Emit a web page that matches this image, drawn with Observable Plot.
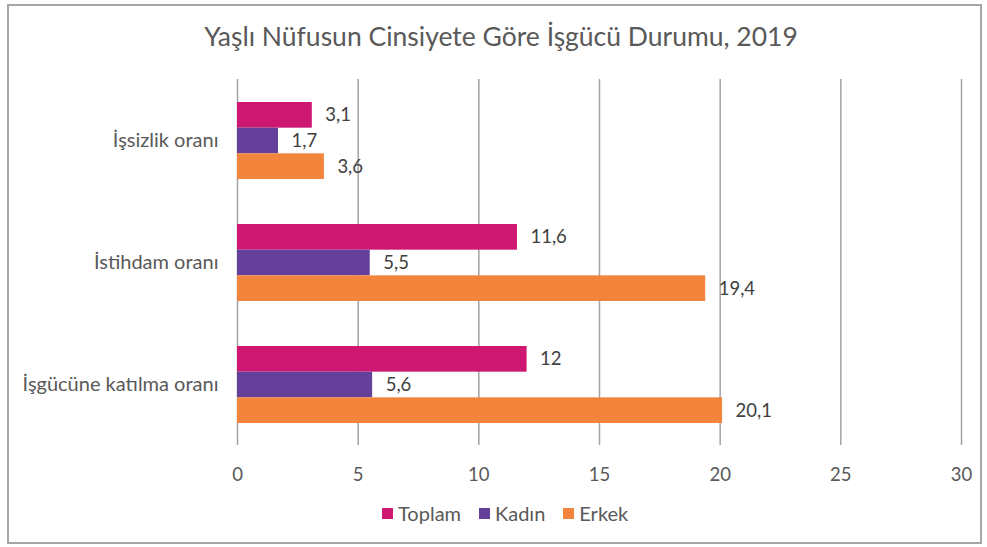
<!DOCTYPE html>
<html><head><meta charset="utf-8">
<script src="https://cdn.jsdelivr.net/npm/d3@7"></script>
<script src="https://cdn.jsdelivr.net/npm/@observablehq/plot@0.6"></script>
<style>
body{margin:0;background:#fff;font-family:Lato,"Open Sans",sans-serif;}
#wrap{position:relative;width:987px;height:547px;overflow:hidden;background:#fff}
#frame{position:absolute;left:7px;top:4px;width:971px;height:536px;border:2px solid #A6A6A6}
#title{position:absolute;left:0;width:1002px;top:20px;text-align:center;font-size:26.5px;color:#595959;white-space:nowrap}
#chart{position:absolute;left:0;top:0}
#legend{position:absolute;left:382px;top:501px;display:flex;align-items:center;font-size:20px;color:#595959;white-space:nowrap}
#legend .it{display:flex;align-items:center;margin-right:18px}
#legend .sw{width:11px;height:11px;margin-right:5px}
</style>
</head><body>
<div id="wrap">
  <div id="frame"></div>
  <div id="chart"></div>
  <div id="title">Yaşlı Nüfusun Cinsiyete Göre İşgücü Durumu, 2019</div>
  <div id="legend"></div>
</div>
<script>
const categories = ["İşsizlik oranı", "İstihdam oranı", "İşgücüne katılma oranı"];
const seriesNames = ["Toplam", "Kadın", "Erkek"];
const toplam = [3.1, 11.6, 12];
const kadin = [1.7, 5.5, 5.6];
const erkek = [3.6, 19.4, 20.1];
const seriesColors = ["#CD1770", "#65409B", "#F3843C"];
const xTicks = [0, 5, 10, 15, 20, 25, 30];

const seriesValues = [toplam, kadin, erkek];
const rows = [];
seriesNames.forEach((s, k) => categories.forEach((c, i) => rows.push({cat: c, series: s, k, value: seriesValues[k][i]})));

const band = 77, h = band / 3;
const fmt = d => String(d.value).replace(".", ",");

const marks = [Plot.ruleX(xTicks, {stroke: "#A3A3A3", strokeWidth: 1.5})];
seriesNames.forEach((s, k) => {
  const d = rows.filter(r => r.k === k);
  marks.push(Plot.barX(d, {x: "value", y: "cat", fill: seriesColors[k], insetTop: k * h, insetBottom: (2 - k) * h}));
  marks.push(Plot.text(d, {x: "value", y: "cat", text: fmt, dx: 13, dy: (k - 1) * h, textAnchor: "start", fill: "#404040", fontSize: 18.5}));
});

const chart = Plot.plot({
  width: 987, height: 547,
  marginLeft: 237, marginRight: 26, marginTop: 79, marginBottom: 102,
  style: {fontSize: "18.5px", fontFamily: "Lato, 'Open Sans', sans-serif", color: "#595959", background: "transparent"},
  x: {domain: [0, 30], ticks: xTicks, tickSize: 0, tickPadding: 22, label: null},
  y: {domain: categories, paddingInner: 0.369, paddingOuter: 0.184, tickSize: 0, tickPadding: 19, label: null},
  marks
});
chart.querySelectorAll("g[aria-label='y-axis tick label'] text, g[aria-label='y-axis'] text").forEach(t => t.style.fontSize = "20px");
document.getElementById("chart").appendChild(chart);

const lg = document.getElementById("legend");
seriesNames.forEach((s, k) => {
  const it = document.createElement("div"); it.className = "it";
  const sw = document.createElement("div"); sw.className = "sw"; sw.style.background = seriesColors[k];
  const tx = document.createElement("span"); tx.textContent = s;
  it.appendChild(sw); it.appendChild(tx); lg.appendChild(it);
});
</script>
</body></html>
